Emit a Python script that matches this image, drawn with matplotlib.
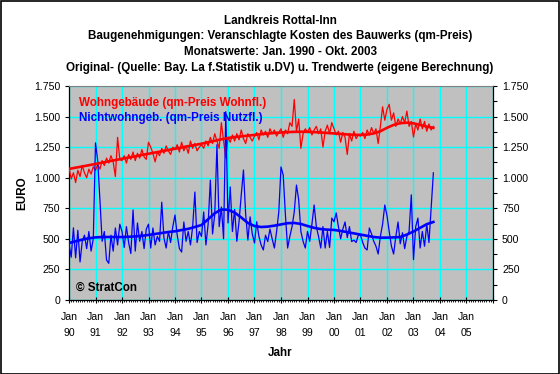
import numpy as np
import matplotlib
matplotlib.use("Agg")
import matplotlib.pyplot as plt
from matplotlib.ticker import MultipleLocator, FuncFormatter

plt.rcParams['font.family'] = ['Liberation Sans', 'DejaVu Sans']

# monthly values Jan 1990 - Okt 2003 (EUR per qm)
wohn = [
    1080, 990, 1040, 960, 1060, 1010, 1100, 1040, 1000, 1070, 1030, 1090,
    1060, 1110, 1070, 1140, 1100, 1160, 1120, 1180, 1130, 1010, 1330, 1150,
    1140, 1180, 1120, 1190, 1150, 1210, 1140, 1200, 1160, 1230, 1170, 1150,
    1290, 1250, 1200, 1130, 1210, 1180, 1240, 1200, 1260, 1220, 1190, 1250,
    1230, 1270, 1210, 1290, 1220, 1260, 1200, 1300, 1240, 1280, 1220, 1250,
    1270, 1240, 1300, 1260, 1330, 1280, 1360, 1300, 1240, 1450, 1300, 1160,
    1330, 1290, 1350, 1300, 1360, 1310, 1390, 1320, 1280, 1360, 1330, 1300,
    1340, 1370, 1310, 1390, 1350, 1380, 1330, 1400, 1360, 1390, 1340, 1370,
    1400, 1330, 1390, 1360, 1450, 1420, 1640, 1380, 1480, 1240, 1360, 1400,
    1370, 1410, 1350, 1390, 1420, 1360, 1400, 1250, 1380, 1430, 1360, 1450,
    1400, 1350, 1380, 1290, 1370, 1330, 1190, 1360, 1300, 1380, 1320, 1350,
    1340, 1370, 1320, 1390, 1350, 1410, 1360, 1400, 1280, 1420, 1580, 1470,
    1560, 1600, 1470, 1530, 1420, 1480, 1440, 1500, 1450, 1545, 1420, 1460,
    1333, 1440, 1390, 1480, 1400, 1460, 1380, 1440, 1390, 1420,
]
nichtwohn = [
    460, 350, 590, 345, 570, 311, 480, 530, 420, 560, 400, 500,
    1285, 1140, 820, 480, 560, 327, 300, 530, 400, 589, 450, 620,
    560, 430, 600, 470, 380, 736, 400, 630, 480, 560, 420, 580,
    620, 425, 589, 450, 520, 480, 800, 507, 425, 560, 470, 600,
    695, 530, 420, 392, 638, 480, 560, 450, 600, 883, 470, 560,
    520, 720, 450, 620, 980, 540, 700, 1270, 600, 760, 500, 1540,
    630, 925, 560, 740, 480, 640, 860, 1063, 700, 490, 680, 540,
    466, 640, 520, 450, 409, 530, 478, 580, 500, 425, 560, 720,
    1088, 1022, 695, 425, 520, 600, 720, 940, 820, 560, 480, 425,
    560, 480, 620, 777, 600, 520, 425, 600, 425, 560, 430, 670,
    640, 712, 600, 500, 580, 638, 510, 600, 478, 490, 470, 530,
    530, 470, 425, 409, 589, 540, 480, 440, 376, 520, 620, 777,
    690, 560, 440, 376, 520, 638, 460, 550, 420, 520, 560, 860,
    330, 600, 670, 425, 560, 440, 620, 470, 750, 1040,
]

# trend values, quarterly (Jan/Apr/Jul/Okt)
wohn_trend = [
    1072, 1082, 1092, 1102, 1113, 1123, 1134, 1144, 1155, 1165, 1175, 1186,
    1196, 1206, 1216, 1227, 1237, 1247, 1258, 1268, 1278, 1290, 1302, 1314,
    1325, 1332, 1338, 1344, 1350, 1356, 1361, 1366, 1370, 1373, 1375, 1376,
    1375, 1373, 1370, 1366, 1362, 1358, 1354, 1351, 1350, 1353, 1362, 1380,
    1408, 1432, 1446, 1450, 1445, 1432, 1418, 1408,
]
nichtwohn_trend = [
    466, 480, 494, 505, 512, 515, 515, 515, 515, 517, 520, 525,
    532, 540, 548, 556, 562, 572, 582, 597, 613, 660, 710, 740,
    738, 715, 675, 630, 605, 597, 600, 608, 618, 628, 630, 622,
    605, 590, 580, 575, 573, 565, 555, 545, 535, 525, 515, 510,
    510, 512, 515, 535, 560, 590, 620, 638,
]

year_labels = ['90', '91', '92', '93', '94', '95', '96', '97',
               '98', '99', '00', '01', '02', '03', '04', '05']

months = np.arange(len(wohn))
trend_months = np.arange(len(wohn_trend)) * 3

fig = plt.figure(figsize=(5.6, 3.74), dpi=100)
fig.patch.set_facecolor('white')
fig.patches.append(plt.Rectangle((0.001, 0.001), 0.997, 0.996, transform=fig.transFigure,
                                 fill=False, edgecolor='black', linewidth=1.2))

ax = fig.add_axes([69 / 560, 74 / 374, 424 / 560, 214 / 374])
ax.set_facecolor('#C0C0C0')

ax.plot(months, wohn, color='#FF0000', lw=0.9, zorder=3)
ax.plot(months, nichtwohn, color='#0000FF', lw=0.9, zorder=3)
ax.plot(trend_months, wohn_trend, color='#FF0000', lw=1.9, zorder=4)
ax.plot(trend_months, nichtwohn_trend, color='#0000FF', lw=1.9, zorder=4)

ax.set_xlim(0, 192)
ax.set_ylim(0, 1750)
ax.set_xticks(np.arange(0, 193, 12))
ax.set_xticklabels(['Jan\n' + y for y in year_labels] + [''], linespacing=1.75)
ax.xaxis.set_minor_locator(MultipleLocator(1))
ax.yaxis.set_major_locator(MultipleLocator(250))
ax.yaxis.set_major_formatter(FuncFormatter(lambda v, p: f"{int(v):,}".replace(',', '.')))

ax.grid(True, which='major', color='#00FFFF', lw=1.0)
ax.set_axisbelow(True)
ax.spines['top'].set_color('#808080')
for name in ['left', 'bottom', 'right']:
    ax.spines[name].set_color('black')
    ax.spines[name].set_linewidth(0.9)

ax.tick_params(axis='x', which='major', direction='inout', length=5, width=0.8,
               labelsize=7.6, pad=6)
ax.tick_params(axis='x', which='minor', direction='out', length=1.5, width=0.6)
ax.tick_params(axis='y', which='major', direction='out', length=3, width=0.8,
               labelsize=7.6)

ax2 = ax.twinx()
ax2.set_ylim(0, 1750)
ax2.yaxis.set_major_locator(MultipleLocator(250))
ax2.yaxis.set_minor_locator(MultipleLocator(125))
ax2.yaxis.set_major_formatter(FuncFormatter(lambda v, p: f"{int(v):,}".replace(',', '.')))
ax2.tick_params(axis='y', which='major', direction='out', length=3, width=0.8, labelsize=7.6)
ax2.tick_params(axis='y', which='minor', direction='out', length=3, width=0.8)
for s in ax2.spines.values():
    s.set_visible(False)

ax.text(10 / 424, 1 - 17 / 214, 'Wohngebäude (qm-Preis Wohnfl.)', transform=ax.transAxes,
        color='#FF0000', fontsize=8.4, fontweight='bold', va='center', ha='left')
ax.text(10 / 424, 1 - 32 / 214, 'Nichtwohngeb. (qm-Preis Nutzfl.)', transform=ax.transAxes,
        color='#0000FF', fontsize=8.4, fontweight='bold', va='center', ha='left')
ax.text(7 / 424, 12 / 214, '© StratCon', transform=ax.transAxes,
        color='black', fontsize=8.4, fontweight='bold', va='center', ha='left')

titles = ['Landkreis Rottal-Inn',
          'Baugenehmigungen: Veranschlagte Kosten des Bauwerks (qm-Preis)',
          'Monatswerte: Jan. 1990 - Okt. 2003',
          'Original- (Quelle: Bay. La f.Statistik u.DV) u. Trendwerte (eigene Berechnung)']
for i, t in enumerate(titles):
    fig.text(280 / 560, 1 - (21 + 15.5 * i) / 374, t, ha='center', va='center',
             fontsize=8.4, fontweight='bold')

fig.text(22 / 560, 1 - 193 / 374, 'EURO', rotation=90, ha='center', va='center',
         fontsize=8.4, fontweight='bold')
fig.text(280 / 560, 1 - 353 / 374, 'Jahr', ha='center', va='center',
         fontsize=8.4, fontweight='bold')

fig.savefig('out.png', dpi=100)
